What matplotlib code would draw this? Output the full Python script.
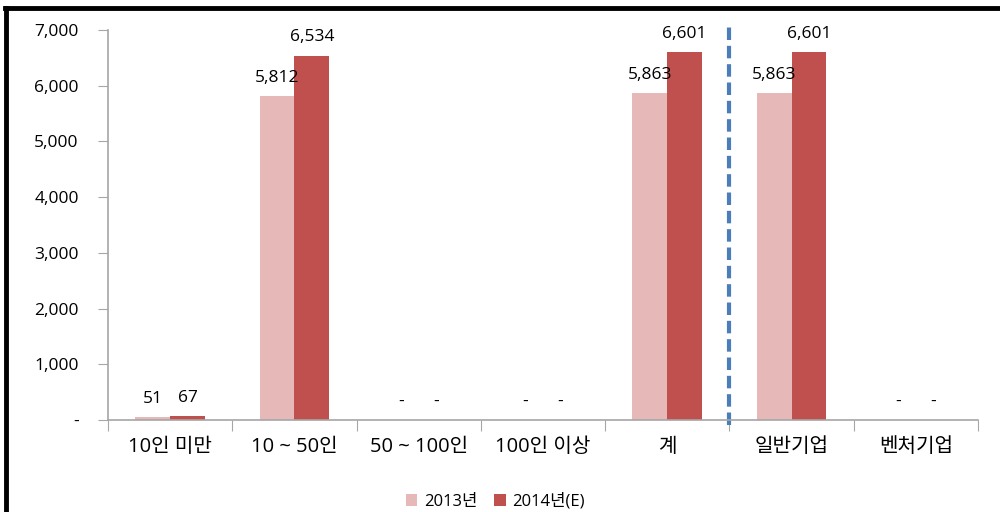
import numpy as np
import matplotlib.pyplot as plt
from matplotlib.lines import Line2D

plt.rcParams['font.family'] = ['Open Sans', 'Noto Sans CJK KR', 'DejaVu Sans']

categories = ['10인 미만', '10 ~ 50인', '50 ~ 100인', '100인 이상', '계', '일반기업', '벤처기업']
v2013 = [51, 5812, 0, 0, 5863, 5863, 0]
v2014 = [67, 6534, 0, 0, 6601, 6601, 0]
series_names = ['2013년', '2014년(E)']
yticks = [0, 1000, 2000, 3000, 4000, 5000, 6000, 7000]

c13 = '#e6b9b8'
c14 = '#c0504d'
gray = '#a6a6a6'

fig = plt.figure(figsize=(10, 5.12), dpi=100)
ax = fig.add_axes([0.108, 0.1797, 0.870, 0.7617])

x = np.arange(len(categories))
w = 0.28
b1 = ax.bar(x - w / 2, v2013, w, color=c13, label=series_names[0])
b2 = ax.bar(x + w / 2, v2014, w, color=c14, label=series_names[1])

def lab(v):
    return '-' if v == 0 else f'{v:,}'

for bars, vals in [(b1, v2013), (b2, v2014)]:
    for r, v in zip(bars, vals):
        ax.text(r.get_x() + r.get_width() / 2, v + 190, lab(v), ha='center', va='bottom',
                fontsize=12.5, color='black')

ax.set_xlim(-0.5, len(categories) - 0.5)
ax.set_ylim(0, 7000)
ax.set_yticks(yticks)
ax.set_yticklabels(['-' if t == 0 else f'{t:,}' for t in yticks], fontsize=12.5)
ax.set_xticks(np.arange(len(categories) + 1) - 0.5)
ax.set_xticklabels([])
ax.set_xticks(x, minor=True)
ax.set_xticklabels(categories, minor=True, fontsize=14.5)
ax.tick_params(axis='x', which='minor', length=0, pad=12)
ax.tick_params(axis='x', which='major', length=8, color=gray, direction='out')
ax.tick_params(axis='y', length=7, color=gray, pad=14)

for s in ['top', 'right']:
    ax.spines[s].set_visible(False)
for s in ['left', 'bottom']:
    ax.spines[s].set_color(gray)
    ax.spines[s].set_linewidth(1.2)

# separator between totals and company types
ax.plot([4.5, 4.5], [-90, 7150], color='#4a7ebb', lw=3, ls=(0, (3, 1.4)), clip_on=False)

ax.legend(loc='upper center', bbox_to_anchor=(0.445, -0.15), ncol=2, frameon=False,
          fontsize=12, handlelength=0.7, handleheight=0.7, columnspacing=1.0, handletextpad=0.4)

# outer frame (top and left)
fig.add_artist(Line2D([0.005, 1.0], [0.984, 0.984], color='black', lw=3.5))
fig.add_artist(Line2D([0.0055, 0.0055], [0.0, 0.984], color='black', lw=3.5))

fig.savefig('out.png', dpi=100)
